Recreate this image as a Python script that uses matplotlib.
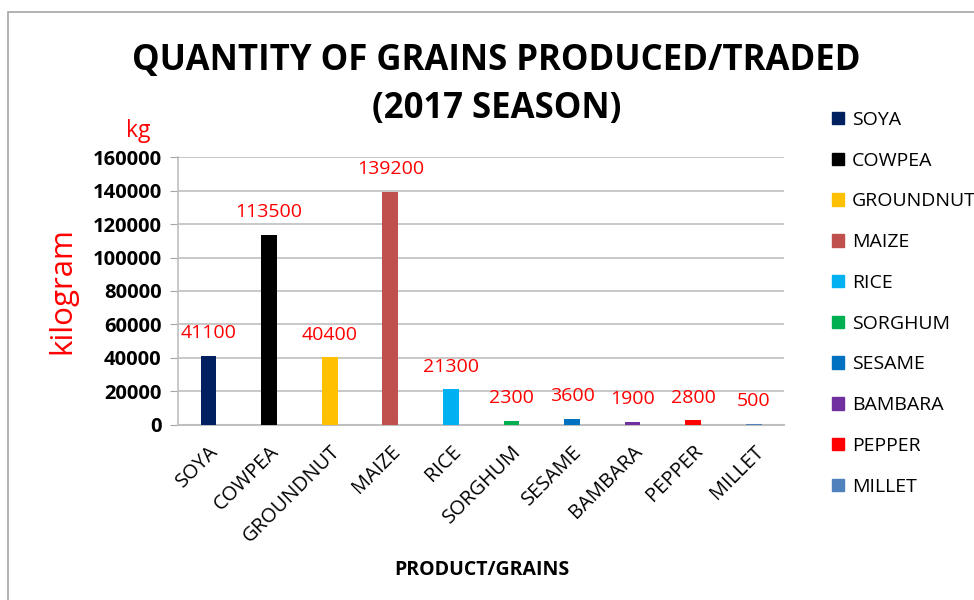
import numpy as np
import matplotlib
matplotlib.use("Agg")
import matplotlib.pyplot as plt
from matplotlib.patches import Rectangle

# Grain quantities, 2017 season (kg)
grains = ["SOYA", "COWPEA", "GROUNDNUT", "MAIZE", "RICE",
          "SORGHUM", "SESAME", "BAMBARA", "PEPPER", "MILLET"]
quantity = [41100, 113500, 40400, 139200, 21300, 2300, 3600, 1900, 2800, 500]
bar_colors = ["#002060", "#000000", "#FFC000", "#C0504D", "#00B0F0",
              "#00B050", "#0070C0", "#7030A0", "#FF0000", "#4F81BD"]
y_ticks = [0, 20000, 40000, 60000, 80000, 100000, 120000, 140000, 160000]

plt.rcParams["font.family"] = ["Open Sans", "DejaVu Sans"]

fig = plt.figure(figsize=(9.74, 6.0), dpi=100)
ax = fig.add_axes([0.183, 0.292, 0.622, 0.446])

# chart frame (cut off on the right and bottom like the screenshot)
fig.patches.append(Rectangle((8 / 974, -0.1), 1.2, 1.1 - 12 / 600,
                             transform=fig.transFigure, fill=False,
                             edgecolor="#A6A6A6", linewidth=1.2))

x = np.arange(len(grains))
bars = ax.bar(x, quantity, width=0.26, color=bar_colors, zorder=3)
for b, q in zip(bars, quantity):
    ax.text(b.get_x() + b.get_width() / 2, q + 13500, str(q),
            ha="center", va="center", color="red", fontsize=14)

ax.set_xlim(-0.5, len(grains) - 0.5)
ax.set_ylim(0, 160000)
ax.set_yticks(y_ticks)
ax.set_yticklabels([str(v) for v in y_ticks], fontweight="bold", fontsize=14.5)
ax.set_xticks(x)
ax.set_xticklabels(grains, rotation=45, ha="right", rotation_mode="anchor",
                   fontsize=14.5)
ax.tick_params(axis="x", length=0, pad=12)
ax.tick_params(axis="y", length=6, color="#A6A6A6", pad=6)
ax.grid(axis="y", color="#BFBFBF", linewidth=1.2, zorder=0)
for s in ["top", "right"]:
    ax.spines[s].set_visible(False)
ax.spines["left"].set_color("#BFBFBF")
ax.spines["bottom"].set_color("#BFBFBF")
ax.spines["left"].set_linewidth(1.2)
ax.spines["bottom"].set_linewidth(1.5)

fig.text(0.510, 0.898, "QUANTITY OF GRAINS PRODUCED/TRADED", ha="center",
         va="center", fontsize=25, fontweight="bold")
fig.text(0.510, 0.818, "(2017 SEASON)", ha="center", va="center",
         fontsize=25, fontweight="bold")
fig.text(0.064, 0.515, "kilogram", rotation=90, ha="center", va="center",
         color="red", fontsize=22.5)
fig.text(0.142, 0.782, "kg", ha="center", va="center", color="red",
         fontsize=16.5)
fig.text(0.495, 0.050, "PRODUCT/GRAINS", ha="center", va="center",
         fontsize=14, fontweight="bold")

handles = [Rectangle((0, 0), 1, 1, color=c) for c in bar_colors]
fig.legend(handles, grains, loc="upper left", bbox_to_anchor=(0.846, 0.828),
           frameon=False, fontsize=14, handlelength=0.62, handleheight=0.62,
           handletextpad=0.42, labelspacing=1.17, borderaxespad=0)

fig.savefig("out.png", dpi=100)
